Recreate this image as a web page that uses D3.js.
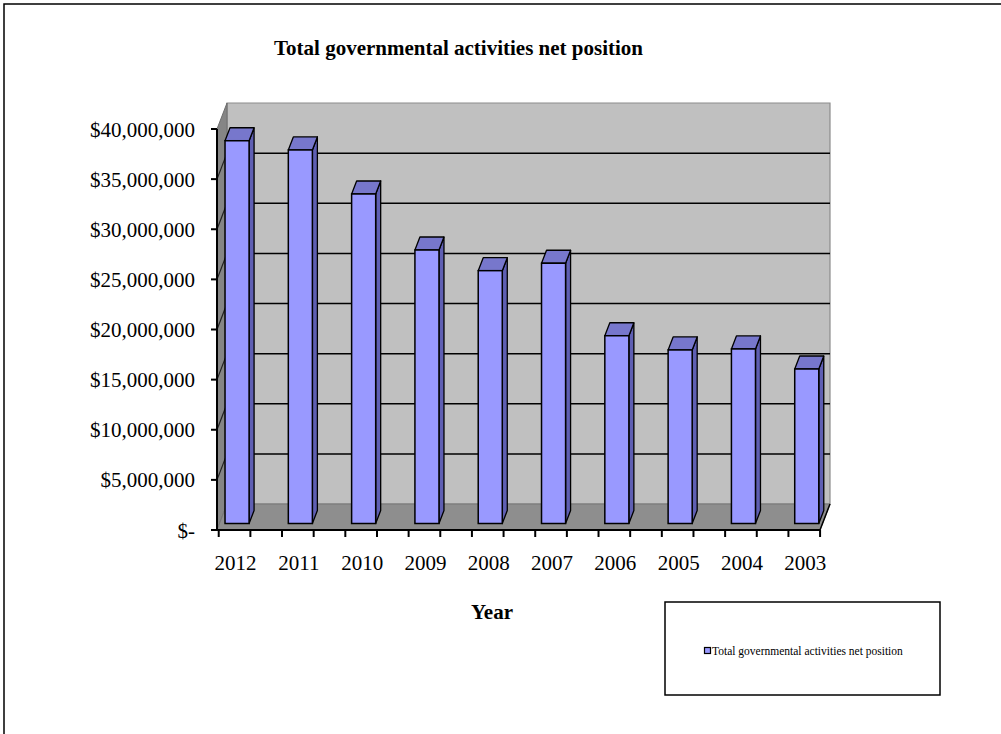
<!DOCTYPE html>
<html>
<head>
<meta charset="utf-8">
<script src="https://cdn.jsdelivr.net/npm/d3@7"></script>
<style>
  html, body { margin: 0; padding: 0; background: #fff; }
  svg { display: block; }
  text { font-family: "Liberation Serif", "Times New Roman", serif; fill: #000; }
</style>
</head>
<body>
<svg id="chart" width="1001" height="734"></svg>
<script>
// Fiscal years, newest first, as laid out along the category axis
const years = ["2012", "2011", "2010", "2009", "2008", "2007", "2006", "2005", "2004", "2003"];
// Total governmental activities net position (dollars)
const netPosition = [38180000, 37260000, 32870000, 27280000, 25220000, 25960000, 18730000, 17310000, 17410000, 15410000];
// Value axis ticks and their labels
const yTickValues = [0, 5000000, 10000000, 15000000, 20000000, 25000000, 30000000, 35000000, 40000000];
const yTickLabels = ["$-", "$5,000,000", "$10,000,000", "$15,000,000", "$20,000,000", "$25,000,000", "$30,000,000", "$35,000,000", "$40,000,000"];
const titleText = "Total governmental activities net position";
const xTitleText = "Year";
const seriesName = "Total governmental activities net position";

const svg = d3.select("#chart");

// Outer chart frame
svg.append("rect")
  .attr("x", 4).attr("y", 4).attr("width", 1010).attr("height", 740)
  .attr("fill", "none").attr("stroke", "#000").attr("stroke-width", 1.5);

// Front-plane scales
const y = d3.scaleLinear().domain([0, 40000000]).range([530, 129]);
const x = d3.scaleBand().domain(years).range([202.9, 835.9])
  .paddingInner(0.62).paddingOuter(0.31);
const bw = x.bandwidth();
const step = x.step();

// Oblique depth vector of the plot box and the slab the bars occupy
const D = { dx: 10, dy: -26 };
const barFront = 0.25, barBack = 0.75;
const plotLeft = 217, plotRight = 820;
const yTop = y(40000000), yBase = y(0);

const pts = a => a.map(p => p.join(",")).join(" ");

// Back wall
svg.append("polygon")
  .attr("points", pts([
    [plotLeft + D.dx, yTop + D.dy], [plotRight + D.dx, yTop + D.dy],
    [plotRight + D.dx, yBase + D.dy], [plotLeft + D.dx, yBase + D.dy]]))
  .attr("fill", "#c0c0c0").attr("stroke", "#8c8c8c").attr("stroke-width", 1.2);

// Left side wall
svg.append("polygon")
  .attr("points", pts([
    [plotLeft, yTop], [plotLeft + D.dx, yTop + D.dy],
    [plotLeft + D.dx, yBase + D.dy], [plotLeft, yBase]]))
  .attr("fill", "#858585").attr("stroke", "#6e6e6e").attr("stroke-width", 1);

// Floor
svg.append("polygon")
  .attr("points", pts([
    [plotLeft, yBase], [plotRight, yBase],
    [plotRight + D.dx, yBase + D.dy], [plotLeft + D.dx, yBase + D.dy]]))
  .attr("fill", "#8e8e8e").attr("stroke", "#777").attr("stroke-width", 1);
svg.append("line")
  .attr("x1", plotRight).attr("y1", yBase)
  .attr("x2", plotRight + D.dx).attr("y2", yBase + D.dy)
  .attr("stroke", "#000").attr("stroke-width", 1.5);

// Gridlines on the back wall and the side wall
const gridVals = yTickValues.filter(v => v > 0 && v < 40000000);
const grid = svg.append("g");
grid.selectAll("line.back").data(gridVals).join("line")
  .attr("class", "back")
  .attr("x1", plotLeft + D.dx).attr("x2", plotRight + D.dx)
  .attr("y1", v => y(v) + D.dy).attr("y2", v => y(v) + D.dy)
  .attr("stroke", "#000").attr("stroke-width", 1.5);
grid.selectAll("line.side").data(gridVals).join("line")
  .attr("class", "side")
  .attr("x1", plotLeft).attr("x2", plotLeft + D.dx)
  .attr("y1", v => y(v)).attr("y2", v => y(v) + D.dy)
  .attr("stroke", "#222").attr("stroke-width", 1.2);

// 3-D columns
const hdx = D.dx * (barBack - barFront), hdy = D.dy * (barBack - barFront);
const bars = svg.append("g").selectAll("g").data(years.map((yr, i) => ({ yr, v: netPosition[i] }))).join("g");
bars.each(function(d) {
  const g = d3.select(this);
  const xl = x(d.yr) + D.dx * barFront;
  const xr = xl + bw;
  const yt = y(d.v) + D.dy * barFront;
  const yb = y(0) + D.dy * barFront;
  // side face
  g.append("polygon")
    .attr("points", pts([[xr, yt], [xr + hdx, yt + hdy], [xr + hdx, yb + hdy], [xr, yb]]))
    .attr("fill", "#5f5fb3").attr("stroke", "#000").attr("stroke-width", 1.3).attr("stroke-linejoin", "round");
  // top face
  g.append("polygon")
    .attr("points", pts([[xl, yt], [xr, yt], [xr + hdx, yt + hdy], [xl + hdx, yt + hdy]]))
    .attr("fill", "#7777cc").attr("stroke", "#000").attr("stroke-width", 1.3).attr("stroke-linejoin", "round");
  // front face
  g.append("rect")
    .attr("x", xl).attr("y", yt).attr("width", bw).attr("height", yb - yt)
    .attr("fill", "#9999ff").attr("stroke", "#000").attr("stroke-width", 1.5);
});

// Value axis
const yAxis = svg.append("g");
yAxis.append("line")
  .attr("x1", plotLeft).attr("x2", plotLeft).attr("y1", yTop).attr("y2", yBase)
  .attr("stroke", "#000").attr("stroke-width", 2);
yAxis.selectAll("line.tick").data(yTickValues).join("line")
  .attr("class", "tick")
  .attr("x1", plotLeft - 6).attr("x2", plotLeft)
  .attr("y1", v => y(v)).attr("y2", v => y(v))
  .attr("stroke", "#000").attr("stroke-width", 2);
yAxis.selectAll("text").data(yTickValues).join("text")
  .attr("x", 195).attr("y", v => y(v) + 7.5)
  .attr("text-anchor", "end").attr("font-size", 21)
  .text((v, i) => yTickLabels[i]);

// Category axis
const xAxis = svg.append("g");
xAxis.append("line")
  .attr("x1", plotLeft - 4).attr("x2", plotRight).attr("y1", yBase).attr("y2", yBase)
  .attr("stroke", "#000").attr("stroke-width", 2);
const xTicks = [];
years.forEach(yr => {
  const c = x(yr) + bw / 2;
  xTicks.push(c - step / 4, c + step / 4);
});
xAxis.selectAll("line.tick").data(xTicks).join("line")
  .attr("class", "tick")
  .attr("x1", d => d).attr("x2", d => d).attr("y1", yBase).attr("y2", yBase + 7)
  .attr("stroke", "#000").attr("stroke-width", 2);
xAxis.selectAll("text").data(years).join("text")
  .attr("x", d => x(d) + bw / 2 + 1).attr("y", 570)
  .attr("text-anchor", "middle").attr("font-size", 21)
  .text(d => d);

// Titles
svg.append("text")
  .attr("x", 458.5).attr("y", 55)
  .attr("text-anchor", "middle").attr("font-size", 21).attr("font-weight", "bold")
  .text(titleText);
svg.append("text")
  .attr("x", 492).attr("y", 619)
  .attr("text-anchor", "middle").attr("font-size", 21).attr("font-weight", "bold")
  .text(xTitleText);

// Legend
const legend = svg.append("g");
legend.append("rect")
  .attr("x", 665).attr("y", 602).attr("width", 275).attr("height", 93)
  .attr("fill", "#fff").attr("stroke", "#000").attr("stroke-width", 1.5);
legend.append("rect")
  .attr("x", 704.5).attr("y", 647.5).attr("width", 6).attr("height", 6)
  .attr("fill", "#9999ff").attr("stroke", "#000").attr("stroke-width", 1.2);
legend.append("text")
  .attr("x", 712).attr("y", 655).attr("font-size", 11.5)
  .text(seriesName);
</script>
</body>
</html>
